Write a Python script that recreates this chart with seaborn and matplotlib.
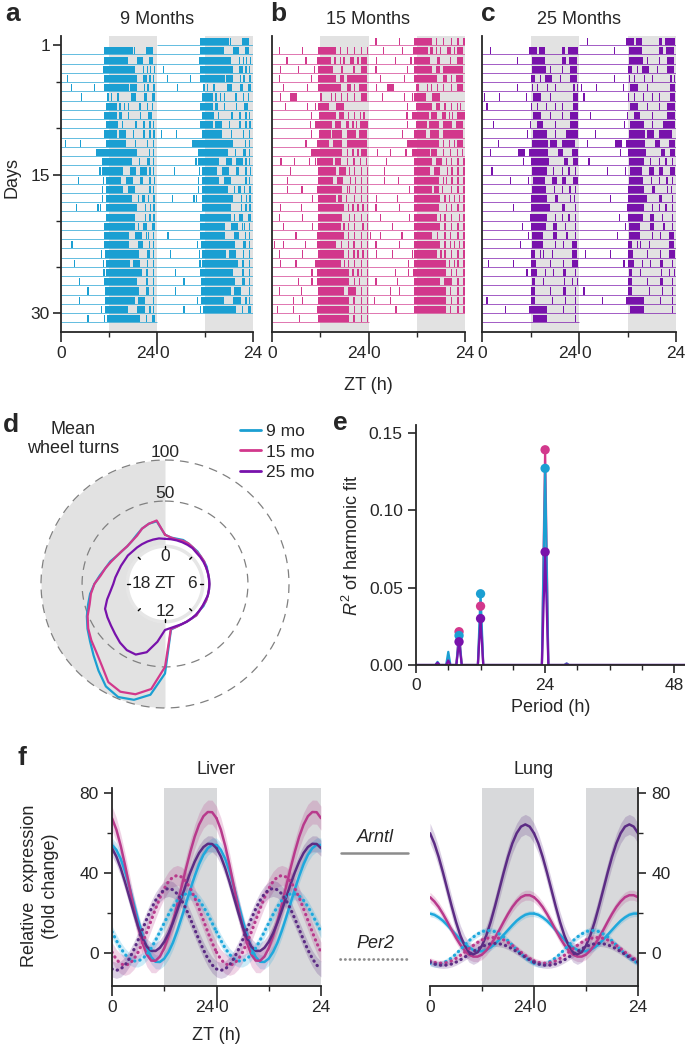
import matplotlib
matplotlib.use('Agg')

import matplotlib.pyplot as plt
from matplotlib.lines import Line2D
import seaborn as sns
import numpy as np
import pandas as pd

sns.set_style('ticks')
plt.rcParams['font.family'] = ['Liberation Sans', 'DejaVu Sans']
plt.rcParams['mathtext.fontset'] = 'custom'
plt.rcParams['mathtext.it'] = 'Liberation Sans:italic'
plt.rcParams['mathtext.rm'] = 'Liberation Sans'

# ---------------- data ----------------
# actograms: per day, activity bouts in ZT hours; a number is a short bout
days_9mo = [
    [(10.8, 18.1), 18.3, (21.2, 23.1)],
    [(10.8, 16.7), (19.1, 20.6), (22.1, 22.9)],
    [(10.6, 18.5), 20.4, 21.4, 22.25, 23.2],
    [1.4, (10.8, 18.9), 20.6, 21.1, 22.1, 22.9],
    [2.5, 8.3, (10.8, 17.1), (17.3, 18.9), 20.75, (21.4, 21.9), (22.9, 23.5)],
    [5.0, 11.6, 12.5, 14.1, (17.5, 18.75), (20.7, 21.4), (22.7, 23.5)],
    [(11.2, 14.1), 14.6, 15.75, 16.75, 19.6, 21.4, 22.7],
    [(10.8, 14.1), (14.6, 15.2), 16.75, 19.75, (21.75, 22.7)],
    [(11.2, 14.3), 15.2, (18.5, 19.1), 20.6, 22.1, 22.9],
    [(10.8, 13.9), (14.6, 16.25), 17.9, 20.6, 22.1, 23.1],
    [1.0, 4.75, (11.25, 16.25), 18.4, 21.4, 22.9],
    [(8.7, 18.9), 21.9, 22.9],
    [10.2, (10.6, 17.7), 19.5, (21.4, 22.25), 22.9],
    [9.6, (10.2, 15.6), (17.25, 18.75), (19.75, 21.4), 22.1, 22.9],
    [4.2, 10.4, (11.25, 14.9), (16.25, 18.1), (19.75, 20.6), 22.1, 23.25],
    [10.25, (11.25, 15.6), (16.8, 18.5), 22.1, 22.9],
    [10.25, (11.25, 17.8), 19.2, (20.3, 21.0), 21.8, 23.1],
    [3.7, 9.1, 9.75, (11.25, 18.9), 21.0, 22.25, 23.1],
    [(11.25, 18.5), 20.9, 22.1, 23.1],
    [(10.8, 18.5), 19.3, (20.6, 21.4), (22.7, 23.5)],
    [(10.8, 17.1), (18.5, 20.2), 21.25, 21.8, 22.9],
    [(2.5, 3.1), (10.8, 17.1), (19.3, 20.6), 21.9, 22.9],
    [9.9, (11.1, 19.6), (21.4, 22.25), 22.9],
    [3.25, 10.4, (11.25, 17.25), (17.9, 19.75), 21.4, 22.9],
    [10.6, (11.25, 20.2), (21.25, 21.8), 22.9],
    [4.4, (10.8, 19.1), (21.25, 21.8), 22.9],
    [6.6, (11.1, 19.6), (21.25, 22.1), 22.9],
    [4.4, (11.1, 18.5), (19.3, 21.0), 22.9],
    [9.9, (11.1, 16.8), (18.9, 21.0), 22.1, 22.9],
    [6.6, 10.8, (11.4, 19.75), 21.25, (22.7, 23.5)],
]
days_15mo = [
    [1.7, 7.5, (11.4, 15.8), 16.8, 18.6, 20.4, 22.1, 23.6],
    [3.6, 8.3, (11.1, 14.75), (15.4, 16.0), 16.8, 17.75, (19.4, 20.4), 21.25, (22.1, 23.6)],
    [1.9, 6.5, 10.4, (11.4, 15.25), (17.1, 17.75), 20.25, (22.1, 23.6)],
    [1.7, 9.6, (11.4, 15.8), (16.9, 17.9), (18.6, 23.6)],
    [2.75, 8.75, (11.4, 17.1), (18.6, 19.6), 20.4, (21.7, 23.6)],
    [1.9, (4.6, 6.25), (11.9, 12.5), 14.6, 15.6, 17.1, 18.6, 20.4, (22.1, 23.6)],
    [3.3, 8.75, 10.7, (11.4, 14.2), (15.8, 17.9)],
    [9.6, (11.7, 15.8), (16.7, 17.9), 18.9, 20.4, 21.9, 22.75],
    [9.4, (10.8, 15.0), (15.6, 17.1), (18.3, 19.2), 20.0, 20.8, (21.9, 23.9)],
    [9.6, (11.7, 14.6), (15.0, 17.5), (18.6, 20.8), (21.7, 23.6)],
    [8.3, (11.25, 14.2), (15.25, 17.5), (18.6, 23.6)],
    [(9.6, 17.5), 18.6, 20.0, 21.25, (22.1, 23.6)],
    [2.1, 5.4, 9.2, 10.7, (11.1, 15.25), (15.6, 17.1), 18.6, 20.25, 21.9, 23.3],
    [4.4, (11.4, 15.8), (16.7, 18.3), 19.2, 20.4, 22.1, 23.6],
    [3.75, (11.4, 15.25), (16.25, 17.75), 19.4, 20.6, 22.1, 23.6],
    [3.75, 7.3, (11.25, 17.5), 18.6, 19.2, 20.6, 22.1, 23.6],
    [10.0, (11.4, 15.8), (16.4, 17.5), 18.3, 20.4, 22.1, 23.6],
    [1.9, 7.1, (11.4, 17.9), 18.9, 20.0, 21.25, 22.5, 23.6],
    [1.7, 7.5, (11.4, 17.5), 19.2, 20.4, 22.1, 23.6],
    [2.75, 10.0, (11.4, 17.1), 17.75, 18.9, 20.4, 22.5, 23.6],
    [5.8, (11.25, 17.9), 18.9, 20.4, 22.1, 23.6],
    [0.4, 2.75, 8.2, (11.25, 15.8), 17.1, 18.9, 20.25, 22.1, 23.6],
    [1.7, 7.5, (11.4, 17.9), 18.9, 20.25, 21.25, 22.5, 23.6],
    [1.9, 5.8, 10.8, (11.25, 17.1), 17.9, 18.9, 20.4, 22.1, 23.6],
    [9.8, (11.25, 19.2), 20.0, 21.25, 22.1, 23.6],
    [6.5, 9.8, (11.1, 19.2), 20.4, 21.7, 23.6],
    [1.7, 7.1, (11.4, 17.9), (18.9, 20.8), 22.1, 23.6],
    [5.25, 7.5, (11.4, 19.2), 20.25, 22.1, 23.6],
    [1.25, 5.25, (11.25, 19.2), 20.4, 22.1, 23.6],
    [6.7, (11.4, 19.2), 20.25, 22.1, 23.6],
]
days_25mo = [
    [1.9, (11.7, 13.5), (14.0, 15.6), (19.7, 20.6), (21.4, 23.8)],
    [8.7, (12.25, 15.6), (19.7, 20.9), (21.6, 23.4)],
    [(12.25, 15.8), 16.8, 19.7, (21.8, 23.4)],
    [(12.0, 13.1), 14.3, (15.6, 17.2), 19.3, (21.8, 23.4)],
    [8.7, 12.25, 13.5, 16.0, 18.05, 22.6, 23.4],
    [0.4, 4.2, 10.85, (12.7, 14.7), 16.8, (22.6, 23.8)],
    [1.1, 12.0, 13.5, 15.8, 18.05, 19.7, (22.6, 23.8)],
    [(12.7, 14.7), 16.8, 19.7, (21.8, 23.8)],
    [2.7, 11.8, (13.5, 15.15), 18.05, (21.8, 23.8)],
    [11.2, (12.7, 16.0), 18.05, (20.9, 23.8)],
    [4.0, (12.25, 16.4), (16.8, 18.5), (19.7, 23.0)],
    [1.9, (8.9, 10.6), (11.7, 16.4), (18.9, 20.1), (22.2, 23.8)],
    [10.2, (12.0, 16.6), (20.3, 21.4), (22.6, 23.8)],
    [2.3, (12.25, 16.0), 17.6, 19.7, 21.4, 23.0],
    [6.9, 11.4, (12.5, 15.6), (17.2, 18.5), (19.7, 20.9), (22.6, 23.8)],
    [(12.25, 15.8), 17.8, 19.7, 21.6, 23.0],
    [(12.0, 16.0), (18.05, 18.9), 21.8, 22.8],
    [7.7, (12.0, 16.8), (19.7, 20.5), 23.0],
    [(11.8, 16.0), 18.05, 19.7, 21.4, 23.0],
    [9.8, (12.0, 15.8), (17.6, 18.5), 20.5, 23.0],
    [11.4, (12.25, 15.0), (17.6, 18.5), 20.9, 23.0],
    [9.35, (12.25, 15.15), 18.05, 20.1, (22.2, 23.4)],
    [(12.0, 13.1), 14.3, 15.15, 17.2, (22.2, 23.4)],
    [1.5, 7.7, (12.0, 13.3), 16.8, 20.1, (22.2, 23.8)],
    [11.0, (12.0, 13.5), 15.6, 17.6, (20.1, 20.9), 23.0],
    [(12.25, 13.1), 15.15, 20.3, 22.2, 23.4],
    [(12.0, 13.1), 16.8, (20.1, 20.9), 23.0],
    [1.1, (12.0, 13.1), 17.2, 20.5, 23.0],
    [5.6, (11.7, 16.1), 20.1, 23.0],
    [(12.5, 16.0), 23.0],
]

# polar: mean wheel turns per half-hour bin, ZT 0 .. 23.5
zt_bins = [i * 0.5 for i in range(48)]
wheel_9mo = [9, 6, 6, 7, 6, 5, 5, 4, 4, 4, 3, 3, 3, 3, 3, 3, 3, 2, 3, 2, 2, 2, 3, 5,
             58, 85, 95, 98, 93, 82, 72, 64, 58, 52, 46, 41, 35, 29, 24, 21, 17, 15, 14, 15, 18, 22, 25, 26]
wheel_15mo = [9, 6, 5, 6, 6, 5, 4, 4, 4, 3, 3, 3, 3, 3, 3, 3, 2, 2, 3, 2, 2, 2, 3, 4,
              50, 78, 88, 91, 87, 75, 67, 62, 57, 51, 44, 40, 35, 28, 24, 20, 17, 15, 14, 15, 17, 22, 25, 27]
wheel_25mo = [4, 4, 4, 4, 4, 4, 3, 3, 3, 3, 3, 3, 3, 3, 3, 2, 2, 2, 2, 2, 2, 2, 2, 3,
              5, 20, 35, 42, 42, 39, 35, 32, 30, 28, 22, 16, 12, 10, 8, 7, 6, 6, 5, 5, 5, 5, 5, 5]

# harmonic fit R^2 versus period
period = [0, 3.6, 4, 4.4, 5.6, 6, 6.4, 7.5, 8, 8.5, 11.5, 12, 12.5, 23.4, 24, 24.6, 27.6, 28, 28.4, 50]
r2_9mo = [0, 0, 0.002, 0, 0, 0.0085, 0, 0, 0.019, 0, 0, 0.046, 0, 0, 0.127, 0, 0, 0.001, 0, 0]
r2_15mo = [0, 0, 0.001, 0, 0, 0.002, 0, 0, 0.0215, 0, 0, 0.038, 0, 0, 0.139, 0, 0, 0.001, 0, 0]
r2_25mo = [0, 0, 0.0015, 0, 0, 0.003, 0, 0, 0.015, 0, 0, 0.030, 0, 0, 0.073, 0, 0, 0.0005, 0, 0]
peak_period = [8, 12, 24]
peak_9mo = [0.019, 0.046, 0.127]
peak_15mo = [0.0215, 0.038, 0.139]
peak_25mo = [0.015, 0.030, 0.073]

# clock-gene expression (fold change), ZT 0..24
zt_f = list(range(25))
liver_arntl_9 = [54.2, 51.8, 47.3, 40.9, 33.3, 25.0, 16.7, 9.1, 2.7, -1.8, -4.2, -4.3, -2.6, 0.7, 5.4, 11.3,
                 18.0, 25.0, 32.1, 38.7, 44.6, 49.3, 52.6, 54.3, 54.2]
liver_arntl_15 = [67.6, 61.9, 53.8, 44.1, 33.5, 22.9, 13.3, 5.2, -0.6, -3.6, -3.7, -1.6, 2.6, 8.6, 16.1, 24.5,
                  33.5, 42.5, 50.9, 58.4, 64.4, 68.6, 70.7, 70.6, 67.6]
liver_arntl_25 = [52.6, 48.4, 42.6, 35.6, 28.0, 20.4, 13.4, 7.6, 3.4, 1.3, 1.2, 2.8, 5.8, 10.1, 15.4, 21.5,
                  28.0, 34.5, 40.6, 45.9, 50.2, 53.2, 54.8, 54.7, 52.6]
liver_per2_9 = [10.8, 6.5, 2.6, -0.5, -2.7, -3.8, -3.8, -2.7, -0.5, 2.6, 6.5, 10.8, 15.2, 19.5, 23.4, 26.5,
                28.7, 29.8, 29.8, 28.7, 26.5, 23.4, 19.5, 15.2, 10.8]
liver_per2_15 = [0.6, -3.0, -5.2, -6.0, -5.2, -3.0, 0.6, 5.3, 10.7, 16.5, 22.3, 27.8, 32.4, 36.0, 38.2, 39.0,
                 38.2, 36.0, 32.4, 27.8, 22.3, 16.5, 10.7, 5.3, 0.6]
liver_per2_25 = [-7.8, -8.5, -7.8, -5.8, -2.5, 1.75, 6.7, 12.0, 17.3, 22.25, 26.5, 29.75, 31.8, 32.5, 31.8,
                 29.75, 26.5, 22.25, 17.3, 12.0, 6.7, 1.75, -2.5, -5.8, -7.8]
lung_arntl_9 = [19.9, 19.3, 18.0, 16.3, 14.1, 11.7, 9.3, 6.9, 4.7, 3.0, 1.7, 1.1, 1.1, 1.7, 3.0, 4.7,
                6.9, 9.3, 11.7, 14.1, 16.3, 18.0, 19.3, 19.9, 19.9]
lung_arntl_15 = [28.1, 26.0, 23.2, 19.7, 15.8, 11.7, 7.8, 4.3, 1.5, -0.6, -1.6, -1.6, -0.6, 1.5, 4.3, 7.8,
                 11.7, 15.8, 19.7, 23.2, 26.0, 28.1, 29.1, 29.1, 28.1]
lung_arntl_25 = [60.1, 55.0, 48.25, 40.4, 32.0, 23.6, 15.75, 9.0, 3.9, 0.6, -0.5, 0.6, 3.9, 9.0, 15.75, 23.6,
                 32.0, 40.4, 48.25, 55.0, 60.1, 63.4, 64.5, 63.4, 60.1]
lung_per2_9 = [-4.9, -5.4, -5.4, -4.9, -3.7, -2.2, -0.3, 1.9, 4.1, 6.3, 8.2, 9.7, 10.9, 11.4, 11.4, 10.9,
               9.7, 8.2, 6.3, 4.1, 1.9, -0.3, -2.2, -3.7, -4.9]
lung_per2_15 = [-3.7, -4.5, -4.9, -4.9, -4.5, -3.7, -2.5, -1.0, 0.6, 2.4, 4.0, 5.5, 6.7, 7.5, 7.9, 7.9,
                7.5, 6.7, 5.5, 4.0, 2.4, 0.6, -1.0, -2.5, -3.7]
lung_per2_25 = [-4.4, -5.3, -5.8, -6.0, -5.8, -5.3, -4.4, -3.25, -1.9, -0.5, 0.9, 2.25, 3.4, 4.3, 4.8, 5.0,
                4.8, 4.3, 3.4, 2.25, 0.9, -0.5, -1.9, -3.25, -4.4]
liver_sem = {'arntl': [3.5, 6, 4], 'per2': [3, 5, 4]}
lung_sem = {'arntl': [1.5, 2.5, 5], 'per2': [1.5, 1.5, 1.5]}

# ---------------- style ----------------
c9, c15, c25 = '#1b9fd2', '#d2388c', '#7812ab'
f9, f15, f25 = '#1fa8dc', '#b83a8c', '#5c2c84'
grey_bg = '#e2e2e2'
FS = 12.5      # tick labels / small text
FL = 13        # axis labels / titles
FP = 19        # panel letters

W, H = 685, 1045
fig = plt.figure(figsize=(W / 100, H / 100), dpi=100)


def px_axes(l, t, r, b, **kw):
    return fig.add_axes([l / W, 1 - b / H, (r - l) / W, (b - t) / H], **kw)


def ftext(x, y, s, **kw):
    return fig.text(x / W, 1 - y / H, s, **kw)


def double_xaxis(ax):
    ax.set_xlim(0, 48)
    ax.set_xticks([0, 24, 48])
    ax.set_xticklabels(['0', '', '24'])
    ax.set_xticks([12, 36], minor=True)
    ax.tick_params(axis='x', which='major', length=7, width=1.2, labelsize=FS, pad=3)
    ax.tick_params(axis='x', which='minor', length=3.5, width=1.0)
    ax.xaxis.get_major_ticks()[1].tick1line.set_markersize(16)
    for s, dx, ha in [('24', -1.5, 'right'), ('0', 1.5, 'left')]:
        ax.annotate(s, xy=(24, 0), xycoords=('data', 'axes fraction'), xytext=(dx, -10),
                    textcoords='offset points', ha=ha, va='top', fontsize=FS)


def to_spans(day):
    out = []
    for b in day:
        if isinstance(b, tuple):
            out.append((b[0], b[1] - b[0]))
        else:
            out.append((b, 0.3))
    return out


def actogram(ax, days, color):
    n = len(days)
    ax.axvspan(12, 24, color=grey_bg, lw=0, zorder=0)
    ax.axvspan(36, 48, color=grey_bg, lw=0, zorder=0)
    for r in range(1, n + 2):
        if r >= 2:
            ax.hlines(r, 0, 24, color=color, lw=0.6, alpha=0.8)
            ax.broken_barh(to_spans(days[r - 2]), (r - 0.78, 0.78), facecolors=color, lw=0)
        if r <= n:
            ax.hlines(r, 24, 48, color=color, lw=0.6, alpha=0.8)
            ax.broken_barh([(s + 24, w) for s, w in to_spans(days[r - 1])], (r - 0.78, 0.78),
                           facecolors=color, lw=0)
    ax.set_ylim(32.05, 0)
    double_xaxis(ax)
    sns.despine(ax=ax)
    for sp in ['left', 'bottom']:
        ax.spines[sp].set_linewidth(1.3)


# ---------------- a, b, c ----------------
panels = [(61, 253, days_9mo, c9, '9 Months', 'a', 13),
          (272, 465, days_15mo, c15, '15 Months', 'b', 278),
          (482, 676, days_25mo, c25, '25 Months', 'c', 488)]
for l, r, days, col, title, letter, lx in panels:
    ax = px_axes(l, 36, r, 332)
    actogram(ax, days, col)
    if letter == 'a':
        ax.set_yticks([1, 15, 30])
        ax.set_yticks([5, 10, 20, 25], minor=True)
        ax.tick_params(axis='y', which='major', length=6, width=1.2, labelsize=FS, pad=2)
        ax.tick_params(axis='y', which='minor', length=3.5, width=1.0)
    else:
        ax.set_yticks([])
    ftext((l + r) / 2, 19, title, ha='center', va='center', fontsize=FL)
    ftext(lx, 14, letter, ha='center', va='center', fontsize=FP, fontweight='bold')
ftext(12, 177, 'Days', rotation=90, ha='center', va='center', fontsize=FL)
ftext(368, 385, 'ZT (h)', ha='center', va='center', fontsize=FL)

# ---------------- d (polar) ----------------
axd = fig.add_axes([41 / W, 1 - (584 + 124) / H, 248 / W, 248 / H], projection='polar')
axd.set_theta_zero_location('N')
axd.set_theta_direction(-1)
axd.set_facecolor('none')
th_dark = np.linspace(np.pi, 2 * np.pi, 120)
axd.fill_between(th_dark, -4, 100, color=grey_bg, lw=0, zorder=0)
th_all = np.linspace(0, 2 * np.pi, 240)
for rr in (50, 100):
    axd.plot(th_all, np.full_like(th_all, rr), color='#808080', lw=0.9, ls=(0, (7, 5)),
             clip_on=False, zorder=1)
axd.plot(th_all, np.full_like(th_all, -5), color='#e6e6e6', lw=2.5, zorder=1)
for z in range(0, 24, 3):
    t = z / 24 * 2 * np.pi
    axd.plot([t, t], [-8.5, -5], color='black', lw=1.0, zorder=2)
for z, s, rr in [(0, '0', -17), (6, '6', -18), (12, '12', -18), (18, '18', -22)]:
    axd.text(z / 24 * 2 * np.pi, rr, s, ha='center', va='center', fontsize=FS)
axd.text(0, -51, 'ZT', ha='center', va='center', fontsize=FS)
axd.text(0, 100.5, '100', ha='center', va='bottom', fontsize=FS)
axd.text(0, 50.5, '50', ha='center', va='bottom', fontsize=FS)
theta = [z / 24 * 2 * np.pi for z in zt_bins] + [2 * np.pi]
for vals, col in [(wheel_9mo, c9), (wheel_15mo, c15), (wheel_25mo, c25)]:
    axd.plot(theta, list(vals) + [vals[0]], color=col, lw=1.6, zorder=3)
axd.set_ylim(-51, 100)
axd.spines['polar'].set_visible(False)
axd.set_xticks([])
axd.set_yticks([])
axd.grid(False)
ftext(11, 425, 'd', ha='center', va='center', fontsize=FP, fontweight='bold')
ftext(73, 439, 'Mean\nwheel turns', ha='center', va='center', fontsize=FL, linespacing=1.15)
handles = [Line2D([], [], color=c, lw=2) for c in (c9, c15, c25)]
fig.legend(handles, ['9 mo', '15 mo', '25 mo'], loc='upper left',
           bbox_to_anchor=(240 / W, 1 - 424 / H), frameon=False, fontsize=FS,
           handlelength=1.2, handletextpad=0.3, labelspacing=0.3, borderaxespad=0, borderpad=0)

# ---------------- e ----------------
axe = px_axes(416, 425, 685, 665)
df_e = pd.concat([pd.DataFrame({'period': period, 'r2': v, 'age': a})
                  for v, a in [(r2_15mo, '15 mo'), (r2_9mo, '9 mo'), (r2_25mo, '25 mo')]])
pal = {'9 mo': c9, '15 mo': c15, '25 mo': c25}
sns.lineplot(data=df_e, x='period', y='r2', hue='age', palette=pal, ax=axe, lw=1.6,
             sort=False, legend=False, estimator=None)
df_p = pd.concat([pd.DataFrame({'period': peak_period, 'r2': v, 'age': a})
                  for v, a in [(peak_15mo, '15 mo'), (peak_9mo, '9 mo'), (peak_25mo, '25 mo')]])
sns.scatterplot(data=df_p, x='period', y='r2', hue='age', palette=pal, ax=axe, s=45,
                edgecolor='none', legend=False, zorder=4)
axe.set_xlim(0, 50)
axe.set_ylim(0, 0.155)
axe.set_xticks([0, 24, 48])
axe.set_xticks([6, 12, 18, 30, 36, 42], minor=True)
axe.set_yticks([0, 0.05, 0.10, 0.15])
axe.set_yticklabels(['0.00', '0.05', '0.10', '0.15'])
axe.tick_params(which='major', length=6, width=1.2, labelsize=FS)
axe.tick_params(which='minor', length=3.5, width=1.0)
axe.set_xlabel('Period (h)', fontsize=FL)
axe.set_ylabel(r'$\mathit{R}^2$ of harmonic fit', fontsize=FL, labelpad=5)
sns.despine(ax=axe)
for sp in ['left', 'bottom']:
    axe.spines[sp].set_linewidth(1.3)
ftext(340, 423, 'e', ha='center', va='center', fontsize=FP, fontweight='bold')


# ---------------- f ----------------
def expr_panel(ax, arntl, per2, sem):
    ax.axvspan(12, 24, color='#d8d9db', lw=0, zorder=0)
    ax.axvspan(36, 48, color='#d8d9db', lw=0, zorder=0)
    cols = [f9, f15, f25]
    for gene, series, ls, lw in [('arntl', arntl, '-', 1.8), ('per2', per2, (0, (0.1, 1.6)), 2.3)]:
        for i, vals in enumerate(series):
            v = np.array(vals)
            for off in (0, 24):
                x = np.array(zt_f) + off
                ax.fill_between(x, v - sem[gene][i], v + sem[gene][i], color=cols[i],
                                alpha=0.22, lw=0, zorder=1)
                sns.lineplot(x=x, y=v, ax=ax, color=cols[i], lw=lw, linestyle=ls,
                             dash_capstyle='round', legend=False, zorder=2)
    ax.set_ylim(-16.3, 82.7)
    ax.set_yticks([0, 40, 80])
    ax.set_yticks([20, 60], minor=True)
    ax.tick_params(axis='y', which='major', length=6, width=1.2, labelsize=FS)
    ax.tick_params(axis='y', which='minor', length=3.5, width=1.0)
    double_xaxis(ax)
    ax.set_xlabel('')
    ax.set_ylabel('')


axl = px_axes(112, 788, 321, 986)
expr_panel(axl, [liver_arntl_9, liver_arntl_15, liver_arntl_25],
           [liver_per2_9, liver_per2_15, liver_per2_25], liver_sem)
sns.despine(ax=axl)
for sp in ['left', 'bottom']:
    axl.spines[sp].set_linewidth(1.3)

axg = px_axes(430, 788, 638, 986)
expr_panel(axg, [lung_arntl_9, lung_arntl_15, lung_arntl_25],
           [lung_per2_9, lung_per2_15, lung_per2_25], lung_sem)
sns.despine(ax=axg, left=True, right=False)
axg.yaxis.tick_right()
for sp in ['right', 'bottom']:
    axg.spines[sp].set_linewidth(1.3)

ftext(22, 758, 'f', ha='center', va='center', fontsize=FP, fontweight='bold')
ftext(216, 770, 'Liver', ha='center', va='center', fontsize=FL)
ftext(534, 770, 'Lung', ha='center', va='center', fontsize=FL)
ftext(216, 1035, 'ZT (h)', ha='center', va='center', fontsize=FL)
ftext(40, 886, 'Relative  expression\n(fold change)', rotation=90, ha='center', va='center',
      fontsize=FL, multialignment='center', linespacing=1.3)
ftext(375, 837, 'Arntl', ha='center', va='center', fontsize=FL, style='italic')
ftext(375, 944, 'Per2', ha='center', va='center', fontsize=FL, style='italic')
fig.add_artist(Line2D([341 / W, 408 / W], [1 - 853 / H] * 2, color='#8c8c8c', lw=1.8))
fig.add_artist(Line2D([340 / W, 409 / W], [1 - 959 / H] * 2, color='#8c8c8c', lw=2.0,
                      ls=(0, (0.1, 1.6)), dash_capstyle='round'))

fig.savefig('out.png', dpi=100)
